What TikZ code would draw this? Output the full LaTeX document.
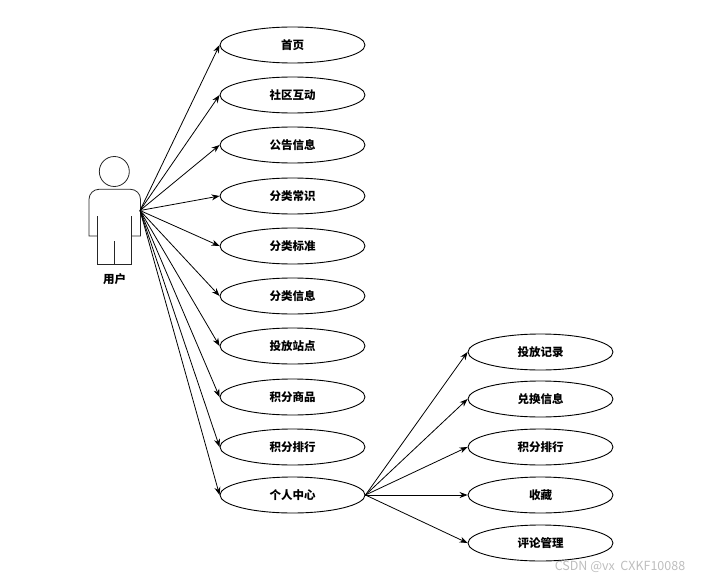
\documentclass[tikz,border=0pt]{standalone}
\usepackage{fontspec}
\setmainfont{Noto Sans CJK SC}
\usepackage{tikz}
\usetikzlibrary{arrows.meta, shapes.geometric}
\definecolor{markgray}{RGB}{190, 190, 190}
\tikzset{
	usecase/.style={ellipse, draw, line width=0.9pt, minimum width=145pt, minimum height=36pt, inner sep=0pt, font=\fontsize{11.5pt}{12pt}\selectfont\bfseries},
	flow/.style={-{Stealth[length=8pt, width=6pt]}, line width=0.8pt, shorten >=0pt},
	actorline/.style={line width=0.8pt, draw=black!85}
}
\begin{document}
\begin{tikzpicture}[x=1pt, y=-1pt]
	\useasboundingbox (0,0) rectangle (703,580);
	% Actor
	\node[circle, actorline, draw, minimum size=30pt, inner sep=0pt] (head) at (114.3,171.5) {};
	\draw[actorline] (97.7,236) -- (89,236) [rounded corners=10pt] -- (89,189.3) -- (140.5,189.3) [sharp corners] -- (140.5,236) -- (131.3,236);
	\draw[actorline] (97.7,216) -- (97.7,264) -- (131.3,264) -- (131.3,216);
	\draw[actorline] (114.3,241) -- (114.3,264);
	\node[font=\fontsize{11.5pt}{12pt}\selectfont\bfseries] (user) at (114.5,279) {用户};
	\coordinate (hand) at (140,210.5);
	% Use cases of the user
	\foreach \y/\name/\txt in {45/home/首页, 95/forum/社区互动, 145/notice/公告信息, 196/common/分类常识, 246/standard/分类标准, 296/sortinfo/分类信息, 346/station/投放站点, 397/goods/积分商品, 447/rank/积分排行, 495/center/个人中心} {
		\node[usecase] (\name) at (292.5,\y) {\txt};
		\draw[flow] (hand) -- (\name.west);
	}
	% Use cases of the personal center
	\foreach \y/\name/\txt in {352/record/投放记录, 399/exchange/兑换信息, 447/rankb/积分排行, 495/favorite/收藏, 543/comment/评论管理} {
		\node[usecase] (\name) at (540.5,\y) {\txt};
		\draw[flow] (center.east) -- (\name.west);
	}
	\node[text=markgray, font=\fontsize{12.5pt}{13pt}\selectfont] (mark) at (620,567) {CSDN @vx\ \ CXKF10088};
\end{tikzpicture}
\end{document}
